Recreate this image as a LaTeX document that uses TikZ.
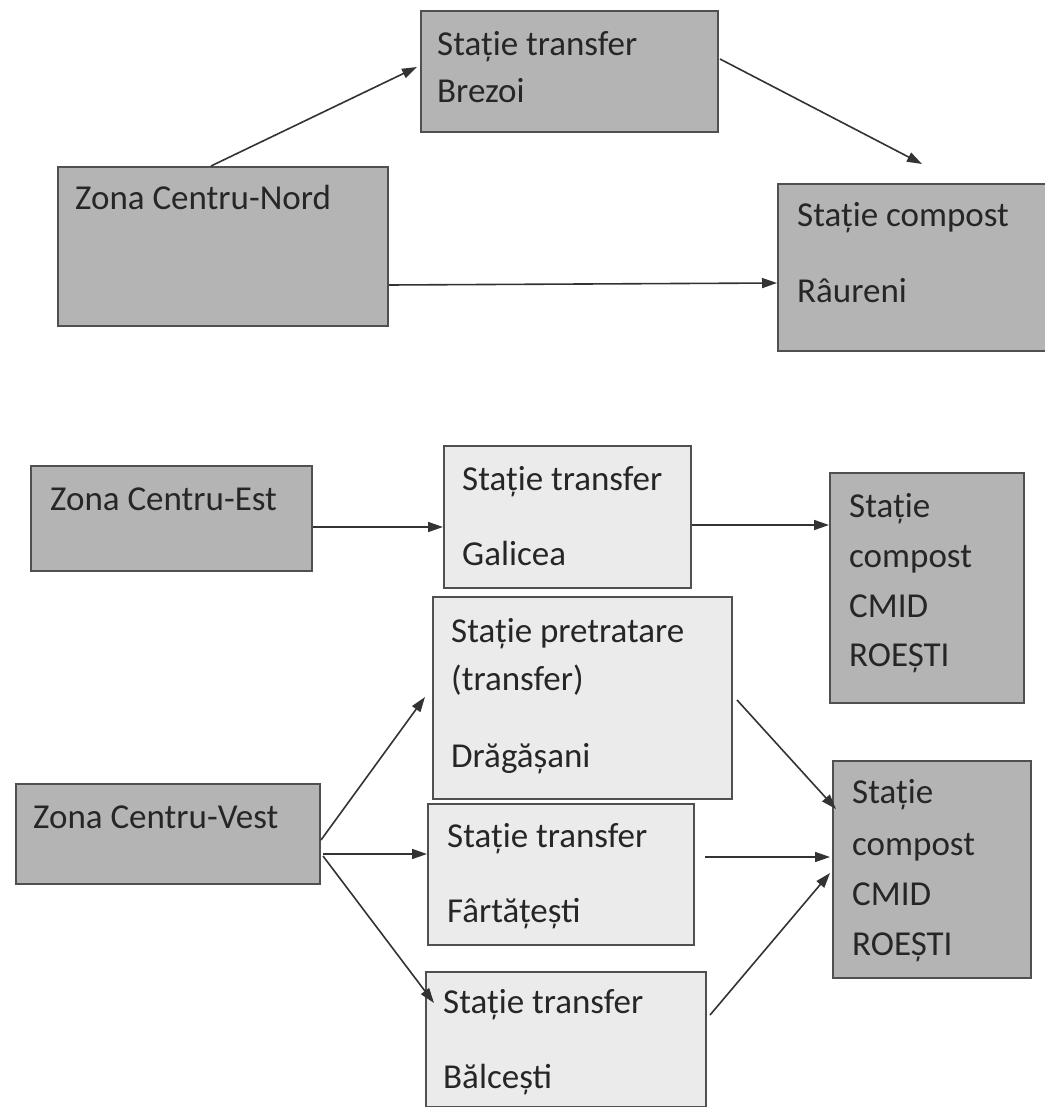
\documentclass[tikz,border=0pt]{standalone}
\usepackage{fontspec}
\setmainfont{Carlito}
\usetikzlibrary{arrows.meta}
\definecolor{darkbox}{HTML}{B4B4B4}
\definecolor{lightbox}{HTML}{EBEBEB}
\definecolor{edge}{HTML}{505050}
\definecolor{arrowc}{HTML}{333333}
\tikzset{
  boxbase/.style={draw=edge, line width=2pt, anchor=north west, inner sep=0pt},
  darkb/.style={boxbase, fill=darkbox},
  lightb/.style={boxbase, fill=lightbox},
  lbl/.style={anchor=base west, inner sep=0pt, text=black!85, font=\fontsize{35}{42}\selectfont},
  arr/.style={draw=arrowc, line width=1.6pt, -{Triangle[length=15pt,width=10pt]}}
}
\begin{document}
\begin{tikzpicture}[x=1pt,y=-1pt]
\useasboundingbox (0,0) rectangle (1044,1107);
\fill[white] (0,0) rectangle (1044,1107);
% top group
\node[darkb, minimum width=330pt, minimum height=159pt] (nord) at (57,166) {};
\node[darkb, minimum width=297pt, minimum height=121pt] (brezoi) at (420,10) {};
\node[darkb, minimum width=272pt, minimum height=167pt] (raureni) at (777,183) {};
\node[lbl] (nordt) at (75,210) {Zona Centru-Nord};
\node[lbl] (brezoit1) at (437,56) {Stație transfer};
\node[lbl] (brezoit2) at (437,103) {Brezoi};
\node[lbl] (raurenit1) at (797,227) {Stație compost};
\node[lbl] (raurenit2) at (797,302) {Râureni};
% middle group
\node[darkb, minimum width=281pt, minimum height=105pt] (est) at (30,465) {};
\node[lightb, minimum width=247pt, minimum height=142pt] (galicea) at (443,445) {};
\node[darkb, minimum width=194pt, minimum height=230pt] (cmida) at (829,472) {};
\node[lbl] (estt) at (50,510) {Zona Centru-Est};
\node[lbl] (galiceat1) at (462,490) {Stație transfer};
\node[lbl] (galiceat2) at (462,565) {Galicea};
\node[lbl] (cmidat1) at (849,517) {Stație};
\node[lbl] (cmidat2) at (849,567) {compost};
\node[lbl] (cmidat3) at (849,617) {CMID};
\node[lbl] (cmidat4) at (849,666) {ROEȘTI};
% bottom group
\node[lightb, minimum width=299pt, minimum height=202pt] (drag) at (432,596) {};
\node[darkb, minimum width=304pt, minimum height=100pt] (vest) at (15,783) {};
\node[lightb, minimum width=266pt, minimum height=141pt] (fart) at (427,803) {};
\node[lightb, minimum width=280pt, minimum height=135pt] (balc) at (425,971) {};
\node[darkb, minimum width=198pt, minimum height=217pt] (cmidb) at (832,760) {};
\node[lbl] (dragt1) at (451,642) {Stație pretratare};
\node[lbl] (dragt2) at (451,690) {(transfer)};
\node[lbl] (dragt3) at (451,767) {Drăgășani};
\node[lbl] (vestt) at (33,828) {Zona Centru-Vest};
\node[lbl] (fartt1) at (447,847) {Stație transfer};
\node[lbl] (fartt2) at (447,922) {Fârtățești};
\node[lbl] (balct1) at (443,1013) {Stație transfer};
\node[lbl] (balct2) at (443,1088) {Bălcești};
\node[lbl] (cmidbt1) at (852,803) {Stație};
\node[lbl] (cmidbt2) at (852,855) {compost};
\node[lbl] (cmidbt3) at (852,905) {CMID};
\node[lbl] (cmidbt4) at (852,955) {ROEȘTI};
% connector end points
\coordinate (nordtop) at (211,166);
\coordinate (brezoiin) at (417,67);
\coordinate (brezoiout) at (720,59);
\coordinate (raureniabove) at (922,164);
\coordinate (nordright) at (389,285);
\coordinate (raurenileft) at (777,283);
\coordinate (estright) at (313,527);
\coordinate (galiceain) at (443,527);
\coordinate (galiceaout) at (692,525);
\coordinate (cmidain) at (829,525);
\coordinate (vestout1) at (321,840);
\coordinate (dragin) at (425,697);
\coordinate (vestout2) at (323,854);
\coordinate (fartin) at (427,854);
\coordinate (vestout3) at (323,856);
\coordinate (balcin) at (434,1003);
\coordinate (dragout) at (737,700);
\coordinate (cmidbin1) at (836,809);
\coordinate (fartout) at (705,857);
\coordinate (cmidbin2) at (830,857);
\coordinate (balcout) at (710,1015);
\coordinate (cmidbin3) at (830,873);
% connectors
\draw[arr] (nordtop) -- (brezoiin);
\draw[arr] (brezoiout) -- (raureniabove);
\draw[arr] (nordright) -- (raurenileft);
\draw[arr] (estright) -- (galiceain);
\draw[arr] (galiceaout) -- (cmidain);
\draw[arr] (vestout1) -- (dragin);
\draw[arr] (vestout2) -- (fartin);
\draw[arr] (vestout3) -- (balcin);
\draw[arr] (dragout) -- (cmidbin1);
\draw[arr] (fartout) -- (cmidbin2);
\draw[arr] (balcout) -- (cmidbin3);
\end{tikzpicture}
\end{document}
